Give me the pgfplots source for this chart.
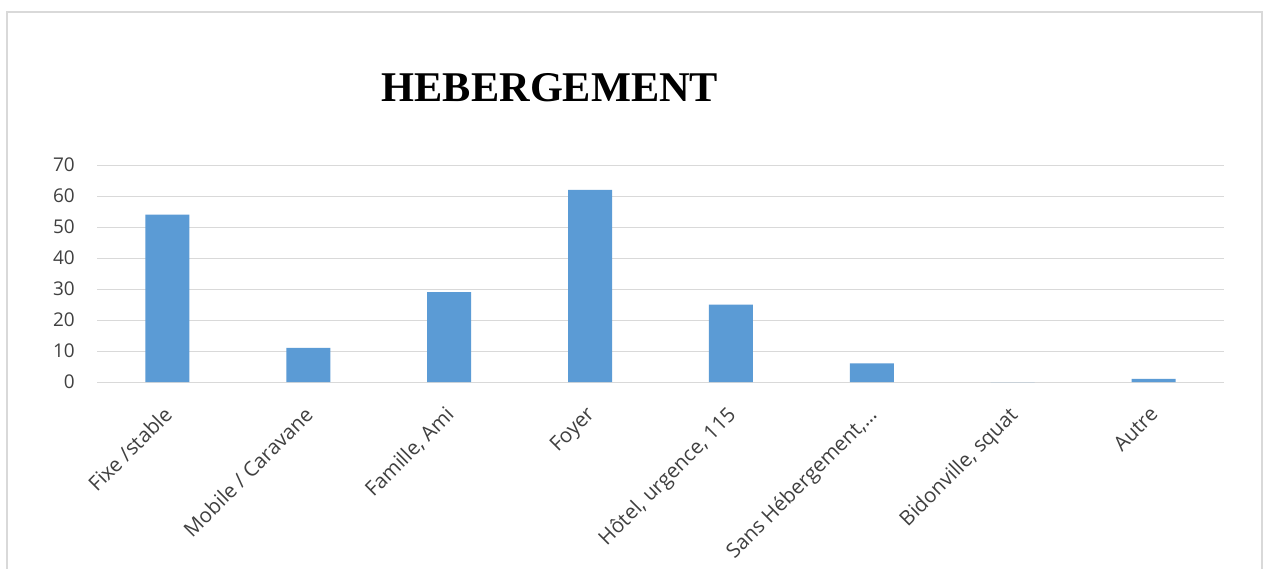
\documentclass[border=0pt]{standalone}
\usepackage{pgfplots}
\pgfplotsset{compat=1.18}
\usepackage{fontspec}
\setmainfont{Open Sans}
\newfontfamily\titlefont{Liberation Serif}
\definecolor{barblue}{HTML}{5B9BD5}
\definecolor{gridgray}{HTML}{D9D9D9}
\definecolor{labgray}{HTML}{404040}
\begin{document}
\begin{tikzpicture}
\useasboundingbox (0,0) rectangle (1264bp,-569bp);
\clip (0,0) rectangle (1264bp,-569bp);
\fill[white] (0,0) rectangle (1264bp,-569bp);
\draw[color=gridgray, line width=1.2bp] (7bp,-600bp) -- (7bp,-12bp) -- (1262bp,-12bp) -- (1262bp,-600bp);
\node[font=\titlefont\bfseries\fontsize{42.5}{50}\selectfont, anchor=base] at (550bp,-101bp) {HEBERGEMENT};
\begin{axis}[
  at={(97bp,-382bp)}, anchor=south west,
  scale only axis, width=1127bp, height=217bp,
  xmin=-0.5, xmax=7.5, ymin=0, ymax=70,
  ytick={0,10,...,70},
  xtick={0,...,7},
  xticklabels={Fixe /stable, Mobile / Caravane, {Famille, Ami}, Foyer, {Hôtel, urgence, 115}, {Sans Hébergement,…}, {Bidonville, squat}, Autre},
  ymajorgrids,
  grid style={color=gridgray, line width=1bp},
  axis line style={draw=none},
  major tick length=0pt,
  tick style={draw=none},
  yticklabel style={font=\fontsize{19}{22}\selectfont, text=labgray, anchor=east, inner sep=0pt, xshift=-22bp},
  xticklabel style={font=\fontsize{20.5}{23}\selectfont, text=labgray, xshift=-5bp, yshift=-23bp, rotate=45, anchor=north east, inner sep=0pt},
  /pgf/number format/assume math mode=true,
  clip=false,
]
\addplot[ybar, bar width=44bp, fill=barblue, draw=none] coordinates {(0,54) (1,11) (2,29) (3,62) (4,25) (5,6) (6,0) (7,1)};
\end{axis}
\end{tikzpicture}
\end{document}
